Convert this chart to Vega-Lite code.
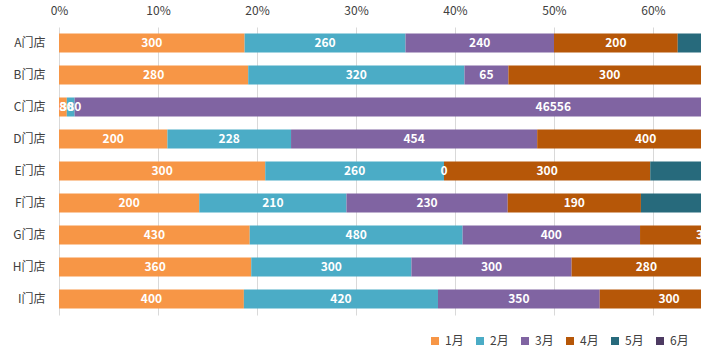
{
  "$schema": "https://vega.github.io/schema/vega-lite/v6.json",
  "width": 642,
  "height": 288,
  "autosize": {"type": "none"},
  "padding": {"left": 59, "top": 27, "right": 0, "bottom": 42},
  "background": "white",
  "config": {
    "view": {"stroke": null},
    "font": "Noto Sans CJK SC",
    "axis": {"labelFont": "Noto Sans CJK SC", "labelFontSize": 12, "labelColor": "#404040"}
  },
  "data": {
    "values": [
      {"store": "A门店", "month": "1月", "value": 300}, {"store": "A门店", "month": "2月", "value": 260}, {"store": "A门店", "month": "3月", "value": 240}, {"store": "A门店", "month": "4月", "value": 200}, {"store": "A门店", "month": "5月", "value": 300}, {"store": "A门店", "month": "6月", "value": 300},
      {"store": "B门店", "month": "1月", "value": 280}, {"store": "B门店", "month": "2月", "value": 320}, {"store": "B门店", "month": "3月", "value": 65}, {"store": "B门店", "month": "4月", "value": 300}, {"store": "B门店", "month": "5月", "value": 250}, {"store": "B门店", "month": "6月", "value": 250},
      {"store": "C门店", "month": "1月", "value": 380}, {"store": "C门店", "month": "2月", "value": 380}, {"store": "C门店", "month": "3月", "value": 46556}, {"store": "C门店", "month": "4月", "value": 300}, {"store": "C门店", "month": "5月", "value": 280}, {"store": "C门店", "month": "6月", "value": 250},
      {"store": "D门店", "month": "1月", "value": 200}, {"store": "D门店", "month": "2月", "value": 228}, {"store": "D门店", "month": "3月", "value": 454}, {"store": "D门店", "month": "4月", "value": 400}, {"store": "D门店", "month": "5月", "value": 300}, {"store": "D门店", "month": "6月", "value": 244},
      {"store": "E门店", "month": "1月", "value": 300}, {"store": "E门店", "month": "2月", "value": 260}, {"store": "E门店", "month": "3月", "value": 0}, {"store": "E门店", "month": "4月", "value": 300}, {"store": "E门店", "month": "5月", "value": 300}, {"store": "E门店", "month": "6月", "value": 280},
      {"store": "F门店", "month": "1月", "value": 200}, {"store": "F门店", "month": "2月", "value": 210}, {"store": "F门店", "month": "3月", "value": 230}, {"store": "F门店", "month": "4月", "value": 190}, {"store": "F门店", "month": "5月", "value": 300}, {"store": "F门店", "month": "6月", "value": 282},
      {"store": "G门店", "month": "1月", "value": 430}, {"store": "G门店", "month": "2月", "value": 480}, {"store": "G门店", "month": "3月", "value": 400}, {"store": "G门店", "month": "4月", "value": 300}, {"store": "G门店", "month": "5月", "value": 320}, {"store": "G门店", "month": "6月", "value": 302},
      {"store": "H门店", "month": "1月", "value": 360}, {"store": "H门店", "month": "2月", "value": 300}, {"store": "H门店", "month": "3月", "value": 300}, {"store": "H门店", "month": "4月", "value": 280}, {"store": "H门店", "month": "5月", "value": 310}, {"store": "H门店", "month": "6月", "value": 304},
      {"store": "I门店", "month": "1月", "value": 400}, {"store": "I门店", "month": "2月", "value": 420}, {"store": "I门店", "month": "3月", "value": 350}, {"store": "I门店", "month": "4月", "value": 300}, {"store": "I门店", "month": "5月", "value": 340}, {"store": "I门店", "month": "6月", "value": 332}
    ]
  },
  "encoding": {
    "y": {
      "field": "store", "type": "nominal", "title": null,
      "scale": {"paddingInner": 0.406, "paddingOuter": 0.203},
      "axis": {"domain": false, "ticks": false, "labelPadding": 14, "grid": false}
    },
    "x": {
      "field": "value", "type": "quantitative", "stack": "normalize", "title": null,
      "scale": {"domain": [0, 0.6485], "nice": false},
      "axis": {"orient": "top", "format": ".0%", "values": [0, 0.1, 0.2, 0.3, 0.4, 0.5, 0.6], "domain": false, "ticks": false, "labelPadding": 10, "grid": true, "gridColor": "#D9D9D9", "labelFlush": false}
    },
    "order": {"field": "month", "type": "ordinal"}
  },
  "layer": [
    {
      "mark": {"type": "bar", "clip": true},
      "encoding": {
        "color": {
          "field": "month", "type": "nominal",
          "scale": {"domain": ["1月", "2月", "3月", "4月", "5月", "6月"], "range": ["#F79646", "#4BACC6", "#8064A2", "#B65708", "#276A7C", "#4D3B62"]},
          "legend": {"title": null, "orient": "none", "direction": "horizontal", "legendX": 370, "legendY": 308, "symbolType": "square", "symbolSize": 64, "symbolStrokeWidth": 0, "labelFontSize": 12, "labelColor": "#404040", "labelOffset": 4, "columnPadding": 10, "labelFont": "Noto Sans CJK SC"}
        }
      }
    },
    {
      "mark": {"type": "text", "clip": true, "color": "white", "fontWeight": "bold", "fontSize": 12, "font": "Noto Sans CJK SC", "baseline": "middle"},
      "encoding": {
        "x": {"field": "value", "type": "quantitative", "stack": "normalize", "bandPosition": 0.5},
        "text": {"field": "value", "type": "quantitative"}
      }
    }
  ]
}
